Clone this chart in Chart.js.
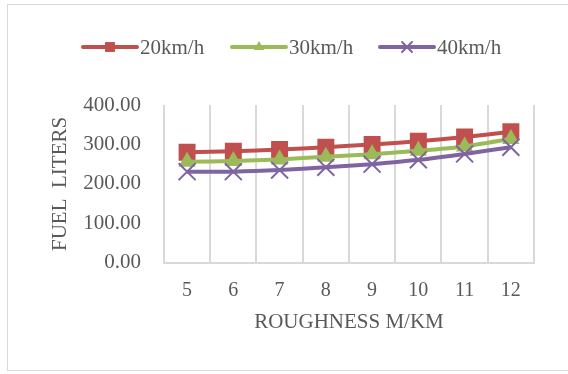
<!DOCTYPE html>
<html>
<head>
<meta charset="utf-8">
<script src="https://cdn.jsdelivr.net/npm/chart.js@4"></script>
<style>
  html, body { margin: 0; padding: 0; background: #fff; }
  #wrap { width: 568px; height: 374px; position: relative; }
</style>
</head>
<body>
<div id="wrap"><canvas id="fuelChart" width="568" height="374"></canvas></div>
<script>
// data
const roughness = ['5', '6', '7', '8', '9', '10', '11', '12'];
const fuel20 = [280, 283, 287, 293, 300, 308, 319, 332];
const fuel30 = [256, 258, 262, 269, 275, 284, 295, 314];
const fuel40 = [231, 231, 235, 242, 250, 261, 276, 293];
const seriesNames = ['20km/h', '30km/h', '40km/h'];

const textColor = '#595959';
const fontFamily = '"Liberation Serif", "Times New Roman", serif';

// excel-ish frame around the whole chart
const framePlugin = {
  id: 'frame',
  beforeDraw(chart) {
    const ctx = chart.ctx;
    ctx.save();
    ctx.strokeStyle = '#d9d9d9';
    ctx.lineWidth = 1;
    ctx.strokeRect(7.5, 4.5, 580, 366);
    ctx.restore();
  }
};

// legend with a line through the marker, like the office one
const lineLegend = {
  id: 'lineLegend',
  afterDraw(chart) {
    const ctx = chart.ctx;
    const y = 47;
    const starts = [83, 232, 380];
    ctx.save();
    chart.data.datasets.forEach((ds, i) => {
      const x0 = starts[i];
      ctx.strokeStyle = ds.borderColor;
      ctx.lineWidth = 4;
      ctx.lineCap = 'round';
      ctx.beginPath();
      ctx.moveTo(x0, y);
      ctx.lineTo(x0 + 54, y);
      ctx.stroke();

      ctx.fillStyle = ds.borderColor;
      ctx.lineWidth = 2;
      Chart.helpers.drawPoint(ctx, {
        pointStyle: ds.pointStyle,
        radius: ds.legendRadius,
        borderWidth: ds.pointStyle === 'crossRot' ? 2 : 0,
        rotation: 0
      }, x0 + 27, y);

      ctx.fillStyle = textColor;
      ctx.font = '21px ' + fontFamily;
      ctx.textBaseline = 'middle';
      ctx.fillText(ds.label, x0 + 57, y + 1);
    });
    ctx.restore();
  }
};

new Chart(document.getElementById('fuelChart'), {
  type: 'line',
  data: {
    labels: roughness,
    datasets: [
      {
        label: seriesNames[0], data: fuel20, order: 3,
        borderColor: '#C0504D', backgroundColor: '#C0504D',
        borderWidth: 4, pointStyle: 'rect', pointRadius: 12,
        pointBorderWidth: 0, legendRadius: 7, tension: 0.2
      },
      {
        label: seriesNames[1], data: fuel30, order: 2,
        borderColor: '#9BBB59', backgroundColor: '#9BBB59',
        borderWidth: 4, pointStyle: 'triangle', pointRadius: 10,
        pointBorderWidth: 0, legendRadius: 6, tension: 0.2
      },
      {
        label: seriesNames[2], data: fuel40, order: 1,
        borderColor: '#8064A2', backgroundColor: '#8064A2',
        borderWidth: 4, pointStyle: 'crossRot', pointRadius: 12,
        pointBorderWidth: 2, legendRadius: 7, tension: 0.2
      }
    ]
  },
  options: {
    responsive: false,
    animation: false,
    layout: { padding: { top: 105, right: 34, bottom: 39, left: 31 } },
    plugins: {
      legend: { display: false },
      tooltip: { enabled: false }
    },
    scales: {
      x: {
        offset: true,
        grid: { display: true, offset: true, color: '#d9d9d9', lineWidth: 2, drawTicks: false },
        border: { display: true, color: '#d9d9d9', width: 2 },
        ticks: { color: textColor, padding: 16, font: { family: fontFamily, size: 20 } },
        title: {
          display: true, text: 'ROUGHNESS M/KM', color: textColor,
          font: { family: fontFamily, size: 21 }, padding: { top: -9, bottom: 0 }
        }
      },
      y: {
        min: 0, max: 400,
        grid: { display: false, drawTicks: false },
        border: { display: false },
        ticks: {
          stepSize: 100, color: textColor, padding: 23,
          font: { family: fontFamily, size: 21 },
          callback: v => v.toFixed(2)
        },
        title: {
          display: true, text: 'FUEL  LITERS', color: textColor,
          font: { family: fontFamily, size: 21 }, padding: { top: 17, bottom: -13 }
        }
      }
    }
  },
  plugins: [framePlugin, lineLegend]
});
</script>
</body>
</html>
